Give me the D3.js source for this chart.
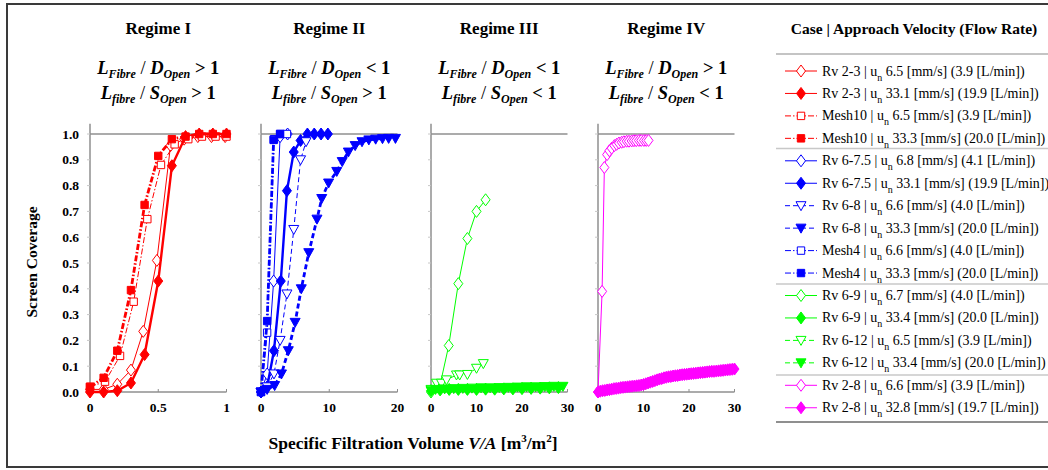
<!DOCTYPE html>
<html>
<head>
<meta charset="utf-8">
<script src="https://cdn.jsdelivr.net/npm/d3@7"></script>
<style>
  body { margin: 0; background: #fff; }
  svg { display: block; }
</style>
</head>
<body>
<svg id="chart" width="1048" height="470" font-family="'Liberation Serif', 'DejaVu Serif', 'Times New Roman', Times, serif"></svg>
<script>
// ---- Panel headings and axes ----
const regimeTitles = ["Regime I", "Regime II", "Regime III", "Regime IV"];
const diameterRelations = [">", "<", "<", ">"];   // L_Fibre / D_Open vs 1
const spacingRelations  = [">", ">", "<", "<"];   // L_fibre / S_Open vs 1
const xMaxima = [1, 20, 30, 30];
const xTickValues = [[0, 0.5, 1], [0, 10, 20], [0, 10, 20, 30], [0, 10, 20, 30]];
const yTickValues = [0, 0.1, 0.2, 0.3, 0.4, 0.5, 0.6, 0.7, 0.8, 0.9, 1.0];

// ---- Legend entries ----
const caseNames = ["Rv 2-3", "Rv 2-3", "Mesh10", "Mesh10", "Rv 6-7.5", "Rv 6-7.5", "Rv 6-8", "Rv 6-8",
                   "Mesh4", "Mesh4", "Rv 6-9", "Rv 6-9", "Rv 6-12", "Rv 6-12", "Rv 2-8", "Rv 2-8"];
const approachVelocities = ["6.5", "33.1", "6.5", "33.3", "6.8", "33.1", "6.6", "33.3",
                            "6.6", "33.3", "6.7", "33.4", "6.5", "33.4", "6.6", "32.8"];
const flowRates = ["3.9", "19.9", "3.9", "20.0", "4.1", "19.9", "4.0", "20.0",
                   "4.0", "20.0", "4.0", "20.0", "3.9", "20.0", "3.9", "19.7"];
const seriesRegime = [0, 0, 0, 0, 1, 1, 1, 1, 1, 1, 2, 2, 2, 2, 3, 3];

// ---- Screen coverage vs specific filtration volume [x = V/A, y = coverage] ----
const rv23Low = [[0, 0.01], [0.1, 0.01], [0.2, 0.03], [0.3, 0.085], [0.39, 0.235], [0.49, 0.51],
                 [0.59, 0.955], [0.69, 0.98], [0.79, 0.99], [0.89, 0.99], [0.99, 0.99]];
const rv23High = [[0, 0], [0.1, 0], [0.2, 0.005], [0.3, 0.035], [0.4, 0.145], [0.5, 0.43],
                  [0.6, 0.877], [0.7, 0.99], [0.8, 1.0], [0.9, 1.0], [1.0, 1.0]];
const mesh10Low = [[0, 0.02], [0.11, 0.04], [0.22, 0.14], [0.32, 0.35], [0.42, 0.67], [0.52, 0.88],
                   [0.62, 0.96], [0.72, 0.98], [0.82, 0.99], [0.92, 0.99], [1.0, 0.99]];
const mesh10High = [[0, 0.02], [0.1, 0.055], [0.2, 0.16], [0.3, 0.395], [0.4, 0.725], [0.5, 0.915],
                    [0.6, 0.98], [0.7, 0.99], [0.8, 1.0], [0.9, 1.0], [1.0, 1.0]];

const rv675Low = [[0, 0], [0.9, 0.07], [1.85, 0.43], [2.8, 0.99], [3.9, 1.0]];
const rv675High = [[0, 0], [0.9, 0.02], [1.9, 0.16], [2.9, 0.43], [3.8, 0.78], [4.8, 0.93],
                   [5.8, 0.975], [6.8, 1.0], [7.8, 1.0], [8.8, 1.0], [9.8, 1.0]];
const rv68Low = [[0, 0], [0.9, 0.02], [1.9, 0.07], [2.8, 0.2], [3.8, 0.38], [4.8, 0.63],
                 [5.8, 0.9], [6.6, 0.97]];
const rv68High = [[0, 0], [0.9, 0.01], [2.0, 0.025], [3.0, 0.07], [4.0, 0.16], [5.0, 0.27],
                  [5.9, 0.40], [7.0, 0.54], [8.2, 0.67], [8.9, 0.75], [9.9, 0.81], [11.1, 0.855],
                  [11.9, 0.893], [12.8, 0.93], [13.8, 0.955], [14.8, 0.97], [15.8, 0.977],
                  [16.8, 0.98], [17.8, 0.982], [18.7, 0.983], [19.7, 0.983]];
const mesh4Low = [[0, 0], [0.9, 0.23], [1.9, 0.98], [2.8, 1.0], [3.8, 1.0]];
const mesh4High = [[0, 0], [0.9, 0.275], [1.85, 0.977], [2.8, 1.0]];

const rv69Low = [[0, 0], [1.9, 0.02], [3.9, 0.18], [6, 0.42], [8, 0.595], [10, 0.70], [12, 0.745]];
const rv69High = [[0, 0.005], [2, 0.008], [4, 0.01], [6, 0.01], [8, 0.01], [10, 0.01], [12, 0.011],
                  [14, 0.011], [16, 0.012], [18, 0.012], [20, 0.013], [22, 0.014], [24, 0.015],
                  [26, 0.016], [28, 0.017]];
const rv612Low = [[0, 0.01], [1.2, 0.034], [2.3, 0.034], [3.4, 0.047], [5.6, 0.066], [6.3, 0.066],
                  [8.0, 0.068], [10, 0.092], [11.5, 0.11]];
const rv612High = [[0, 0.005], [1, 0.01], [3, 0.012], [5, 0.013], [7, 0.014], [9, 0.015], [11, 0.016],
                   [13, 0.016], [15, 0.017], [17, 0.018], [19, 0.019], [21, 0.02], [23, 0.02],
                   [25, 0.021], [27, 0.022], [29, 0.022]];

const rv28Low = [[0, 0], [0.9, 0.39], [1.4, 0.87], [2.0, 0.92], [2.5, 0.935], [3.0, 0.945], [3.6, 0.955],
                 [4.1, 0.96], [4.6, 0.965], [5.2, 0.968], [5.7, 0.97], [6.3, 0.972], [6.8, 0.972],
                 [7.4, 0.973], [7.9, 0.974], [8.4, 0.974], [9.0, 0.975], [9.5, 0.975], [10.1, 0.975],
                 [10.6, 0.975], [11.1, 0.975]];
const rv28High = [[0, 0], [0.5, 0.003], [1, 0.005], [1.5, 0.006], [2, 0.008], [2.5, 0.009], [3, 0.011],
                  [3.5, 0.013], [4, 0.014], [4.5, 0.015], [5, 0.017], [5.5, 0.018], [6, 0.019],
                  [6.5, 0.02], [7, 0.021], [7.5, 0.022], [8, 0.023], [8.5, 0.024], [9, 0.025],
                  [9.5, 0.027], [10, 0.029], [10.5, 0.032], [11, 0.035], [11.5, 0.038], [12, 0.041],
                  [12.5, 0.044], [13, 0.047], [13.5, 0.05], [14, 0.052], [14.5, 0.055], [15, 0.057],
                  [15.5, 0.059], [16, 0.06], [16.5, 0.062], [17, 0.063], [17.5, 0.064], [18, 0.066],
                  [18.5, 0.067], [19, 0.068], [19.5, 0.069], [20, 0.07], [20.5, 0.071], [21, 0.072],
                  [21.5, 0.073], [22, 0.074], [22.5, 0.075], [23, 0.076], [23.5, 0.077], [24, 0.078],
                  [24.5, 0.079], [25, 0.08], [25.5, 0.08], [26, 0.081], [26.5, 0.082], [27, 0.083],
                  [27.5, 0.084], [28, 0.085], [28.5, 0.086], [29, 0.087], [29.5, 0.088], [30, 0.089]];

const seriesData = [rv23Low, rv23High, mesh10Low, mesh10High, rv675Low, rv675High, rv68Low, rv68High,
                    mesh4Low, mesh4High, rv69Low, rv69High, rv612Low, rv612High, rv28Low, rv28High];

// ---- Styling ----
const regimeColors = ["#ff0000", "#0000ff", "#00ff00", "#ff00ff"];
const markerKinds = ["diamond", "diamond", "square", "square", "diamond", "diamond", "triangle", "triangle",
                     "square", "square", "diamond", "diamond", "triangle", "triangle", "diamond", "diamond"];
const dashKinds = ["solid", "solid", "dashdot", "dashdot", "solid", "solid", "dash", "dash",
                   "dashdot", "dashdot", "solid", "solid", "dash", "dash", "solid", "solid"];
const dashArrays = { solid: null, dash: "5,3", dashdot: "6,2,1.5,2" };
const markerPaths = {
  diamond: "M0,-6L4.5,0L0,6L-4.5,0Z",
  square: "M-3.7,-3.7H3.7V3.7H-3.7Z",
  triangle: "M-5,-4H5L0,5Z"
};
const gray = "#8f8f8f";

const svg = d3.select("#chart");

// outer frame
svg.append("rect").attr("x", 7).attr("y", 4).attr("width", 1060).attr("height", 463)
  .attr("fill", "none").attr("stroke", "#3a3a3a").attr("stroke-width", 2);

const panelLefts = [90, 261, 431, 598];
const panelWidth = 136.5;
const y = d3.scaleLinear().domain([0, 1]).range([392, 134]);

const xScales = panelLefts.map((left, i) =>
  d3.scaleLinear().domain([0, xMaxima[i]]).range([left, left + panelWidth]));

panelLefts.forEach((left, i) => {
  const x = xScales[i];
  const g = svg.append("g");
  const cx = left + panelWidth / 2;

  // headings
  g.append("text").attr("x", cx).attr("y", 34).attr("text-anchor", "middle")
    .attr("font-size", 17).attr("font-weight", "bold").text(regimeTitles[i]);

  const ratioLine = (yy, lower, rel) => {
    const t = g.append("text").attr("x", cx).attr("y", yy).attr("text-anchor", "middle")
      .attr("font-size", 18.5).attr("font-weight", "bold");
    t.append("tspan").attr("font-style", "italic").text("L");
    t.append("tspan").attr("font-style", "italic").attr("font-size", 12).attr("dy", 4).text(lower);
    t.append("tspan").attr("dy", -4).attr("font-weight", "normal").text(" / ");
    t.append("tspan").attr("font-style", "italic").text(lower === "Fibre" ? "D" : "S");
    t.append("tspan").attr("font-style", "italic").attr("font-size", 12).attr("dy", 4).text("Open");
    t.append("tspan").attr("dy", -4).text(" " + rel + " 1");
  };
  ratioLine(74, "Fibre", diameterRelations[i]);
  ratioLine(99, "fibre", spacingRelations[i]);

  // axes
  g.append("line").attr("x1", left).attr("x2", left).attr("y1", y(0)).attr("y2", y(1.04))
    .attr("stroke", gray).attr("stroke-width", 1.5);
  g.append("line").attr("x1", left).attr("x2", left + panelWidth).attr("y1", y(0)).attr("y2", y(0))
    .attr("stroke", gray).attr("stroke-width", 1.5);
  g.append("line").attr("x1", left).attr("x2", left + panelWidth).attr("y1", y(1)).attr("y2", y(1))
    .attr("stroke", gray).attr("stroke-width", 1.5);

  g.selectAll(".ytick").data(yTickValues).join("line")
    .attr("x1", left - 3).attr("x2", left).attr("y1", d => y(d)).attr("y2", d => y(d))
    .attr("stroke", "#c8c8c8").attr("stroke-width", 1);
  g.selectAll(".xtick").data(xTickValues[i]).join("line")
    .attr("x1", d => x(d)).attr("x2", d => x(d)).attr("y1", y(0)).attr("y2", y(0) - 3)
    .attr("stroke", gray).attr("stroke-width", 1);
  g.selectAll(".xlab").data(xTickValues[i]).join("text")
    .attr("x", d => x(d)).attr("y", 412).attr("text-anchor", "middle")
    .attr("font-size", 13.5).attr("font-weight", "bold").text(d => d);

  if (i === 0) {
    g.selectAll(".ylab").data(yTickValues).join("text")
      .attr("x", 79).attr("y", d => y(d) + 4.5).attr("text-anchor", "end")
      .attr("font-size", 13.5).attr("font-weight", "bold").text(d => d.toFixed(1));
  }
});

// series
const line = d3.line();
seriesData.forEach((data, s) => {
  const r = seriesRegime[s];
  const x = xScales[r];
  const color = regimeColors[r];
  const filled = s % 2 === 1;
  const width = filled ? (dashKinds[s] === "solid" ? 2.4 : 2.8) : 1;
  const g = svg.append("g");
  g.append("path")
    .attr("d", line(data.map(d => [x(d[0]), y(d[1])])))
    .attr("fill", "none").attr("stroke", color).attr("stroke-width", width)
    .attr("stroke-dasharray", dashArrays[dashKinds[s]]);
  g.selectAll("path.m").data(data).join("path").attr("class", "m")
    .attr("transform", d => `translate(${x(d[0])},${y(d[1])})`)
    .attr("d", markerPaths[markerKinds[s]])
    .attr("fill", filled ? color : "#fff").attr("stroke", color).attr("stroke-width", 1);
});

// axis titles
svg.append("text").attr("transform", "translate(37,262) rotate(-90)").attr("text-anchor", "middle")
  .attr("font-size", 15.5).attr("font-weight", "bold").text("Screen Coverage");

const xt = svg.append("text").attr("x", 413).attr("y", 449).attr("text-anchor", "middle")
  .attr("font-size", 17.5).attr("font-weight", "bold");
xt.append("tspan").text("Specific Filtration Volume ");
xt.append("tspan").attr("font-style", "italic").text("V/A");
xt.append("tspan").text(" [m");
xt.append("tspan").attr("font-size", 11).attr("dy", -7).text("3");
xt.append("tspan").attr("dy", 7).text("/m");
xt.append("tspan").attr("font-size", 11).attr("dy", -7).text("2");
xt.append("tspan").attr("dy", 7).text("]");

// legend
const legend = svg.append("g");
legend.append("text").attr("x", 914).attr("y", 34).attr("text-anchor", "middle")
  .attr("font-size", 15.5).attr("font-weight", "bold").text("Case | Approach Velocity (Flow Rate)");
const sepLines = [[54, "#b0b0b0"], [148.5, "#c8c8c8"], [284, "#c8c8c8"], [375, "#c8c8c8"], [422, "#6a6a6a"]];
sepLines.forEach(([yy, c]) => legend.append("line").attr("x1", 776).attr("x2", 1048)
  .attr("y1", yy).attr("y2", yy).attr("stroke", c).attr("stroke-width", 1.5));

caseNames.forEach((name, s) => {
  const ry = 71 + s * 22.45;
  const color = regimeColors[seriesRegime[s]];
  const filled = s % 2 === 1;
  legend.append("line").attr("x1", 785).attr("x2", 817).attr("y1", ry).attr("y2", ry)
    .attr("stroke", color).attr("stroke-width", 1)
    .attr("stroke-dasharray", dashArrays[dashKinds[s]]);
  legend.append("path").attr("transform", `translate(801,${ry})`).attr("d", markerPaths[markerKinds[s]])
    .attr("fill", filled ? color : "#fff").attr("stroke", color).attr("stroke-width", 1);
  const t = legend.append("text").attr("x", 822).attr("y", ry + 4.5).attr("font-size", 14);
  t.append("tspan").text(name + " | u");
  t.append("tspan").attr("font-size", 10).attr("dy", 5).text("n");
  t.append("tspan").attr("dy", -5).text(" " + approachVelocities[s] + " [mm/s] (" + flowRates[s] + " [L/min])");
});
</script>
</body>
</html>
